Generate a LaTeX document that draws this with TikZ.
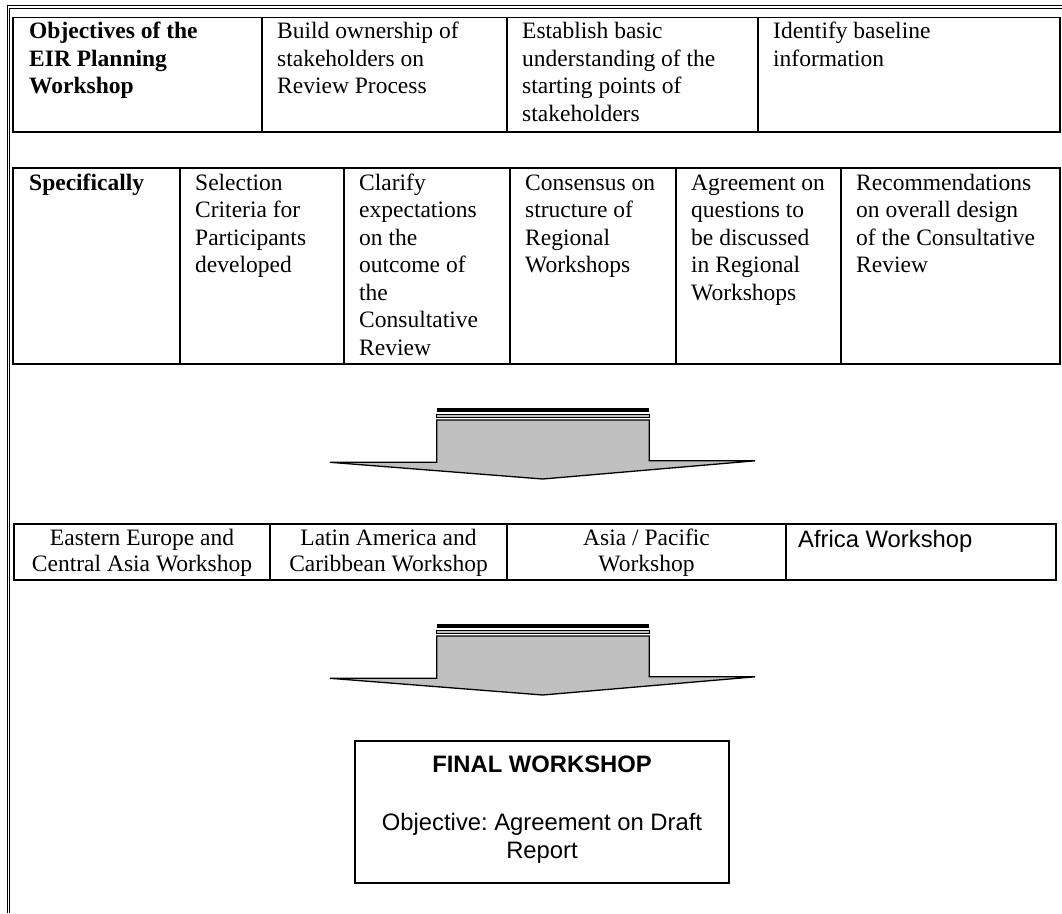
\documentclass[tikz,border=0pt]{standalone}
\usepackage{fontspec}
\setmainfont{Liberation Serif}
\newfontfamily\arialfont{Liberation Sans}
\definecolor{arrowgray}{HTML}{C0C0C0}
\frenchspacing
% stacked lines whose reference point is the first baseline
\newcommand\toplines[2]{\begin{tabular}[t]{@{}#1@{}}#2\end{tabular}}
\begin{document}
\begin{tikzpicture}[x=1pt, y=-1pt,
  rule/.style={line width=0.9pt},
  tableline/.style={line width=1.8pt, line cap=rect},
  celltext/.style={anchor=base west, inner sep=0pt,
    font=\fontsize{23.5}{27.5}\selectfont},
  headtext/.style={celltext, font=\fontsize{23.5}{27.5}\selectfont\bfseries},
  regiontext/.style={anchor=base, inner sep=0pt,
    font=\fontsize{23.5}{26}\selectfont},
  sanstext/.style={inner sep=0pt, font=\arialfont\fontsize{23.8}{28}\selectfont},
  blockarrow/.style={fill=arrowgray, draw=black, line width=1.3pt, line join=miter},
]
\useasboundingbox (0,0) rectangle (1062,913);

% page frame: double rule along the top and left edges
\draw[rule] (7,913) -- (7,5.5) -- (1062,5.5);
\draw[rule] (9.4,913) -- (9.4,8) -- (1062,8);

% objectives table
\draw[tableline] (13.3,17.5) rectangle (1060,131.7);
\foreach \x in {262,507,758} \draw[tableline] (\x,17.5) -- (\x,131.7);
\node[headtext] (obj) at (29,38.5) {\toplines{l}{Objectives of the\\EIR Planning\\Workshop}};
\node[celltext] (own) at (277,38.5) {\toplines{l}{Build ownership of\\stakeholders on\\Review Process}};
\node[celltext] (basic) at (522,38.5) {\toplines{l}{Establish basic\\understanding of the\\starting points of\\stakeholders}};
\node[celltext] (base) at (773,38.5) {\toplines{l}{Identify baseline\\information}};

% specific aims table
\draw[tableline] (13.3,168.3) rectangle (1060,364);
\foreach \x in {180,344,510,676,841} \draw[tableline] (\x,168.3) -- (\x,364);
\node[headtext] (spec) at (29,190) {Specifically};
\node[celltext] (sel) at (195,190) {\toplines{l}{Selection\\Criteria for\\Participants\\developed}};
\node[celltext] (clar) at (359,190) {\toplines{l}{Clarify\\expectations\\on the\\outcome of\\the\\Consultative\\Review}};
\node[celltext] (cons) at (525,190) {\toplines{l}{Consensus on\\structure of\\Regional\\Workshops}};
\node[celltext] (agr) at (691,190) {\toplines{l}{Agreement on\\questions to\\be discussed\\in Regional\\Workshops}};
\node[celltext] (rec) at (856,190) {\toplines{l}{Recommendations\\on overall design\\of the Consultative\\Review}};

% regional workshops row
\draw[tableline] (14,524) rectangle (1056,580);
\foreach \x in {270,507,786} \draw[tableline] (\x,524) -- (\x,580);
\node[regiontext] (eeca) at (142,545) {\toplines{c}{Eastern Europe and\\Central Asia Workshop}};
\node[regiontext] (lac) at (388.5,545) {\toplines{c}{Latin America and\\Caribbean Workshop}};
\node[regiontext] (ap) at (646.5,545) {\toplines{c}{Asia / Pacific\\Workshop}};
\node[sanstext, anchor=base west] (afr) at (798,547) {Africa Workshop};

% block arrows between the stages
\foreach \oy in {0,216} {
  \fill (436.7,408.3+\oy) rectangle (649.3,411.7+\oy);
  \filldraw[fill=arrowgray, line width=0.8pt] (436.7,414.3+\oy) rectangle (649.3,417.2+\oy);
  \path[blockarrow] (436.7,420+\oy) -- (649.3,420+\oy) -- (649.3,460.8+\oy)
    -- (755,460.8+\oy) -- (542.7,479+\oy) -- (330,462.3+\oy)
    -- (436.7,462.3+\oy) -- cycle;
}

% final workshop box
\node[draw, line width=1.5pt, minimum width=374pt, minimum height=142pt, inner sep=0pt] (final) at (542,812) {};
\node[sanstext, anchor=base, font=\arialfont\fontsize{23.8}{28}\selectfont\bfseries] (finalhead) at (542,772.7) {FINAL WORKSHOP};
\node[sanstext, anchor=base] (finalobj) at (542,830) {\toplines{c}{Objective: Agreement on Draft\\Report}};
\end{tikzpicture}
\end{document}
